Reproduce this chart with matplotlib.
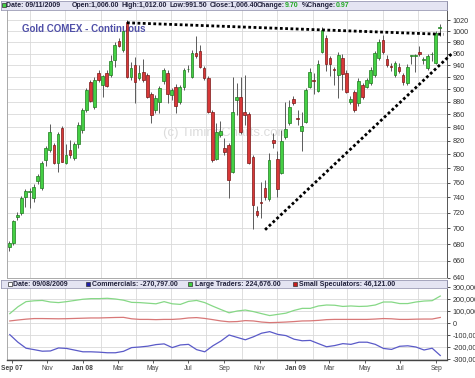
import matplotlib
matplotlib.use("Agg")
import matplotlib.pyplot as plt
import matplotlib.dates as mdates
import numpy as np
import pandas as pd
from matplotlib.patches import Rectangle
from matplotlib.ticker import NullLocator, FixedLocator

plt.rcParams['font.family'] = ['Liberation Sans', 'DejaVu Sans']

# ---------------- data ----------------
first_week = "2007-08-27"
opens = [676.5, 681.7, 714.9, 719.5, 740.2, 748.0, 739.5, 762.5, 752.5, 792.0,
         806.4, 813.7, 788.1, 838.7, 788.1, 806.4, 794.4, 815.0, 835.6, 866.9,
         912.4, 871.6, 926.9, 907.0, 926.9, 923.5, 948.9, 982.0, 966.2, 1017.0,
         920.7, 940.3, 918.1, 929.2, 923.5, 891.9, 866.9, 880.0, 913.1, 926.4,
         890.7, 904.3, 880.0, 902.9, 933.0, 920.7, 960.5, 964.4, 934.8, 918.1,
         864.0, 793.8, 829.0, 809.3, 813.7, 775.4, 882.7, 888.0, 864.5, 860.2,
         796.2, 722.4, 733.5, 752.5, 738.2, 821.1, 793.0, 773.9, 825.2, 846.3,
         884.0, 854.0, 834.6, 848.8, 904.3, 914.8, 897.5, 963.2, 988.0, 951.8,
         933.0, 923.5, 953.2, 927.7, 879.6, 895.6, 877.9, 906.9, 904.3, 909.9,
         922.7, 951.8, 983.0, 950.6, 937.7, 923.5, 937.0, 923.5, 909.9, 955.8,
         956.2, 962.2, 948.9, 935.8, 958.7, 944.6, 1006.0]
highs = [683.5, 710.5, 720.8, 742.2, 751.6, 752.9, 758.4, 772.0, 790.6, 812.3,
         845.8, 816.7, 833.8, 842.2, 815.0, 821.1, 818.5, 848.3, 870.1, 902.1,
         915.2, 920.2, 931.9, 923.5, 931.9, 957.5, 980.3, 987.4, 1005.4, 1020.1,
         945.5, 954.6, 940.3, 951.2, 926.9, 895.6, 890.7, 905.4, 935.3, 931.9,
         902.1, 908.6, 907.0, 935.3, 940.3, 966.2, 990.3, 975.0, 938.7, 921.9,
         866.9, 846.3, 850.0, 824.1, 816.7, 920.7, 910.3, 920.7, 923.5, 863.8,
         799.2, 729.3, 761.1, 763.9, 802.0, 831.6, 805.0, 836.1, 880.0, 882.7,
         889.1, 866.9, 863.8, 902.1, 935.3, 926.9, 948.9, 1007.3, 992.8, 955.8,
         937.6, 962.7, 959.2, 931.9, 889.1, 898.8, 918.6, 910.3, 918.6, 937.0,
         964.4, 985.6, 992.8, 957.5, 944.3, 947.2, 943.8, 926.9, 942.1, 957.5,
         959.2, 973.1, 953.9, 959.2, 962.7, 1000.0, 1012.0]
lows = [671.5, 679.3, 710.5, 716.9, 727.3, 726.3, 734.6, 758.4, 750.2, 783.0,
        803.5, 785.5, 775.4, 788.5, 785.5, 794.4, 792.0, 808.8, 831.6, 863.8,
        879.6, 868.5, 911.9, 888.0, 903.7, 920.2, 937.6, 971.5, 962.7, 918.6,
        915.2, 877.4, 915.2, 911.9, 885.9, 846.3, 862.2, 861.8, 908.6, 877.4,
        882.7, 861.8, 876.4, 898.8, 928.6, 918.6, 952.3, 935.3, 915.2, 862.0,
        789.1, 792.0, 826.0, 799.2, 739.1, 773.6, 859.2, 830.6, 843.7, 785.5,
        699.2, 714.3, 712.7, 736.8, 735.5, 809.3, 740.9, 771.5, 822.6, 843.7,
        874.8, 843.7, 805.3, 846.8, 902.1, 892.4, 895.6, 961.0, 930.2, 921.9,
        907.1, 885.9, 898.8, 894.0, 876.4, 863.8, 873.2, 884.3, 902.1, 907.0,
        920.2, 948.9, 959.2, 937.0, 930.2, 920.2, 926.9, 907.0, 907.0, 942.1,
        928.6, 955.8, 942.1, 931.1, 947.2, 942.1, 991.5]
closes = [681.4, 709.2, 716.7, 739.5, 749.4, 748.4, 754.8, 769.8, 788.1, 809.3,
          832.6, 788.1, 830.6, 789.6, 799.2, 799.2, 815.0, 843.7, 866.9, 898.8,
          881.6, 915.2, 915.2, 921.9, 905.9, 947.2, 975.0, 973.8, 1000.0, 920.7,
          934.8, 912.4, 926.4, 915.2, 888.0, 859.2, 886.4, 902.8, 931.9, 891.9,
          898.8, 872.4, 902.9, 931.9, 933.5, 960.5, 956.4, 937.6, 918.1, 864.0,
          792.0, 833.2, 834.6, 803.1, 763.9, 864.5, 888.0, 832.6, 858.4, 788.1,
          729.7, 716.8, 733.0, 741.2, 792.0, 817.1, 751.4, 820.1, 837.3, 871.6,
          878.7, 853.6, 841.8, 898.8, 929.2, 914.3, 942.6, 1002.4, 942.6, 942.1,
          932.5, 957.0, 925.2, 896.1, 883.5, 867.4, 913.6, 888.0, 915.2, 931.9,
          960.5, 981.1, 962.7, 940.3, 937.3, 943.0, 930.2, 911.9, 937.6, 956.2,
          956.7, 959.2, 949.3, 955.8, 959.1, 996.0, 1006.4]

cot_first = "2007-08-28"
large_traders = [78000, 135000, 178000, 185000, 188000, 175000, 170000, 178000, 188000, 198000,
                 203000, 203000, 206000, 200000, 190000, 172000, 170000, 165000, 160000, 178000,
                 160000, 155000, 180000, 188000, 170000, 140000, 112000, 85000, 100000, 108000,
                 95000, 78000, 62000, 72000, 82000, 105000, 122000, 122000, 142000, 150000,
                 148000, 138000, 142000, 138000, 140000, 150000, 175000, 175000, 162000, 162000,
                 175000, 183000, 186000, 224676]
small_specs = [17000, 25000, 32000, 37000, 37000, 36000, 35000, 36000, 38000, 40000,
               42000, 42000, 44000, 46000, 47000, 35000, 30000, 30000, 28000, 30000,
               30000, 34000, 42000, 45000, 38000, 28000, 17000, 10000, 12000, 20000,
               17000, 8000, 3000, 5000, 8000, 12000, 17000, 18000, 22000, 28000,
               30000, 30000, 30000, 30000, 30000, 33000, 37000, 35000, 30000, 30000,
               32000, 33000, 33000, 46121]
commercials = [-97000, -160000, -210000, -222000, -235000, -233000, -208000, -212000, -226000, -240000,
               -240000, -243000, -248000, -248000, -236000, -205000, -200000, -193000, -180000, -174000,
               -205000, -183000, -178000, -222000, -240000, -190000, -150000, -100000, -120000, -140000,
               -115000, -85000, -72000, -95000, -105000, -135000, -148000, -145000, -172000, -198000,
               -188000, -172000, -178000, -160000, -160000, -178000, -212000, -220000, -194000, -190000,
               -200000, -225000, -210000, -270797]

price_ticks = list(range(640, 1021, 20))
cot_ticks = [-300000, -200000, -100000, 0, 100000, 200000, 300000]
cot_tick_labels = ["-300,000", "-200,000", "-100,000", "0", "100,000", "200,000", "300,000"]

upper_trend_dates = ["2008-03-17", "2009-09-14"]
upper_trend_prices = [1015, 994]
lower_trend_dates = ["2008-11-10", "2009-09-28"]
lower_trend_prices = [698, 960]

main_header = [("Date: 09/11/2009", None, 6.5), ("Open:1,006.00", None, 72), ("High:1,012.00", None, 122),
               ("Low:991.50", None, 170), ("Close:1,006.40", None, 210),
               ("Change:", "9.70", 257), ("%Change:", "0.97", 302)]
cot_header = [("Date: 09/08/2009", 'white', 8, 13), ("Commercials: -270,797.00", '#1f1fa8', 86, 92),
              ("Large Traders: 224,676.00", '#3fcf3f', 188, 195),
              ("Small Speculators: 46,121.00", '#c81e1e', 293, 299)]

# ---------------- figure ----------------
W, H = 475, 378
fig = plt.figure(figsize=(W / 100, H / 100), dpi=100)
fig.patch.set_facecolor('white')


def fbox(l, t, r, b):
    return [l / W, 1 - b / H, (r - l) / W, (b - t) / H]


ax = fig.add_axes(fbox(7, 1, 447, 278))
ax2 = fig.add_axes(fbox(7, 280, 447, 360), sharex=ax)

GRID = '#d9d9d9'

# candles
dates = pd.date_range(first_week, periods=len(opens), freq='7D')
x = mdates.date2num(dates)
o = np.array(opens); h = np.array(highs); l = np.array(lows); c = np.array(closes)
up = c >= o
ax.vlines(x, l, h, color='#5a5a5a', lw=0.7, zorder=2)
bottoms = np.minimum(o, c)
heights = np.maximum(np.abs(c - o), 0.9)
face = np.where(up, '#44d044', '#d83838')
edge = np.where(up, '#1e7a1e', '#7a1616')
ax.bar(x, heights, bottom=bottoms, width=4.6, color=face, edgecolor=edge,
       linewidth=0.5, zorder=3)

ax.set_yscale('log')
ax.set_ylim(639.7, 1055.8)
ax.yaxis.set_major_locator(FixedLocator(price_ticks))
ax.yaxis.set_minor_locator(NullLocator())
ax.set_yticklabels([str(t) for t in price_ticks])
ax.yaxis.tick_right()
ax.tick_params(axis='y', length=2.5, pad=1.5, labelsize=5.2, colors='#333333', width=0.6)
ax.tick_params(axis='x', which='both', length=0, labelbottom=False)

xmin = mdates.date2num(pd.Timestamp("2007-08-23 05:00"))
xmax = mdates.date2num(pd.Timestamp("2009-09-19 14:00"))
ax.set_xlim(xmin, xmax)

label_months = pd.date_range("2007-09-01", "2009-09-01", freq="2MS")
grid_months = pd.date_range("2007-09-01", "2009-09-01", freq="MS")
ax2.xaxis.set_major_locator(FixedLocator(mdates.date2num(label_months)))
ax2.xaxis.set_minor_locator(FixedLocator(mdates.date2num(grid_months)))
labels = []
for d in label_months:
    if d.month == 1 or (d.year == 2007 and d.month == 9):
        labels.append(d.strftime('%b %y'))
    else:
        labels.append(d.strftime('%b'))
ax2.set_xticklabels(labels)
for t in ax2.get_xticklabels():
    if ' ' in t.get_text():
        t.set_fontweight('bold')
        t.set_color('#222222')
    else:
        t.set_color('#555555')

for a in (ax, ax2):
    a.grid(True, which='minor', axis='x', color=GRID, lw=0.6, zorder=0)
    a.set_axisbelow(True)
ax.grid(True, which='major', axis='y', color=GRID, lw=0.6)
ax2.grid(True, which='major', axis='y', color=GRID, lw=0.6)

for a in (ax, ax2):
    a.spines['left'].set_color('#aaaaaa')
    a.spines['top'].set_color('#aaaaaa')
    a.spines['right'].set_color('#555555')
    a.spines['bottom'].set_color('#aaaaaa')
    for s in a.spines.values():
        s.set_linewidth(0.7)
ax2.spines['bottom'].set_color('#444444')
ax2.spines['bottom'].set_linewidth(1.0)

# trendlines
for td, tp in ((upper_trend_dates, upper_trend_prices), (lower_trend_dates, lower_trend_prices)):
    ax.plot(mdates.date2num(pd.to_datetime(td)), tp, color='black', lw=2.0,
            linestyle=(0, (1, 0.9)), dash_capstyle='butt', zorder=4, clip_on=False)

# watermark and title
ax.text(226 / W, 1 - 133 / H, "(c) TimingCharts.com", transform=fig.transFigure,
        fontsize=9.5, color='#dcdcdc', ha='center', va='center', zorder=1)
ax.text(22 / W, 1 - 29 / H, "Gold COMEX - Continuous", transform=fig.transFigure,
        fontsize=7, fontweight='bold', color='#5050a8', ha='left', va='center', zorder=2.5)

# COT panel
cdates = mdates.date2num(pd.date_range(cot_first, periods=len(large_traders), freq='14D'))
cdates[-1] = mdates.date2num(pd.Timestamp("2009-09-08"))
ax2.plot(cdates, large_traders, color='#86d886', lw=0.9, zorder=3)
ax2.plot(cdates, small_specs, color='#d87878', lw=0.9, zorder=3)
ax2.plot(cdates, commercials, color='#5a5ac8', lw=0.9, zorder=3)
ax2.set_ylim(-308333, 358333)
ax2.yaxis.set_major_locator(FixedLocator(cot_ticks))
ax2.set_yticklabels(cot_tick_labels)
ax2.yaxis.tick_right()
ax2.tick_params(axis='y', length=2.5, pad=1.5, labelsize=5.2, colors='#333333', width=0.6)
ax2.tick_params(axis='x', which='major', length=2, pad=1.5, labelsize=4.8, width=0.6, colors='#444444')
ax2.tick_params(axis='x', which='minor', length=0)
ax2.set_xlim(xmin, xmax)

# header strips
HDR_FACE = '#e4e4f2'
HDR_EDGE = '#9a9ab4'
h1 = fig.add_axes(fbox(1, 1, 447, 9.5))
h2 = fig.add_axes(fbox(1, 280, 447, 288))
for hh in (h1, h2):
    hh.set_facecolor(HDR_FACE)
    hh.set_xticks([]); hh.set_yticks([])
    for s in hh.spines.values():
        s.set_color(HDR_EDGE); s.set_linewidth(0.6)

renderer = fig.canvas.get_renderer()
TXT = '#20203a'
FS = 5.0


def square(xl, yc, color, size=3.6):
    fig.patches.append(Rectangle((xl / W, 1 - (yc + size / 2) / H), size / W, size / H,
                                 transform=fig.transFigure, facecolor=color,
                                 edgecolor='#333333', lw=0.5, zorder=10))


square(2, 5.2, '#44d044')
for label, val, xs in main_header:
    t = fig.text(xs / W, 1 - 5.3 / H, label, fontsize=FS, fontweight='bold', color=TXT,
                 ha='left', va='center', zorder=10)
    if val is not None:
        bb = t.get_window_extent(renderer=renderer)
        fig.text(bb.x1 / W, 1 - 5.3 / H, val, fontsize=FS, fontweight='bold', color='#22aa22',
                 ha='left', va='center', zorder=10)

for label, col, xsq, xs in cot_header:
    square(xsq, 284, col)
    fig.text(xs / W, 1 - 284 / H, label, fontsize=FS, fontweight='bold', color=TXT,
             ha='left', va='center', zorder=10)

fig.savefig('out.png', dpi=100, facecolor='white')
